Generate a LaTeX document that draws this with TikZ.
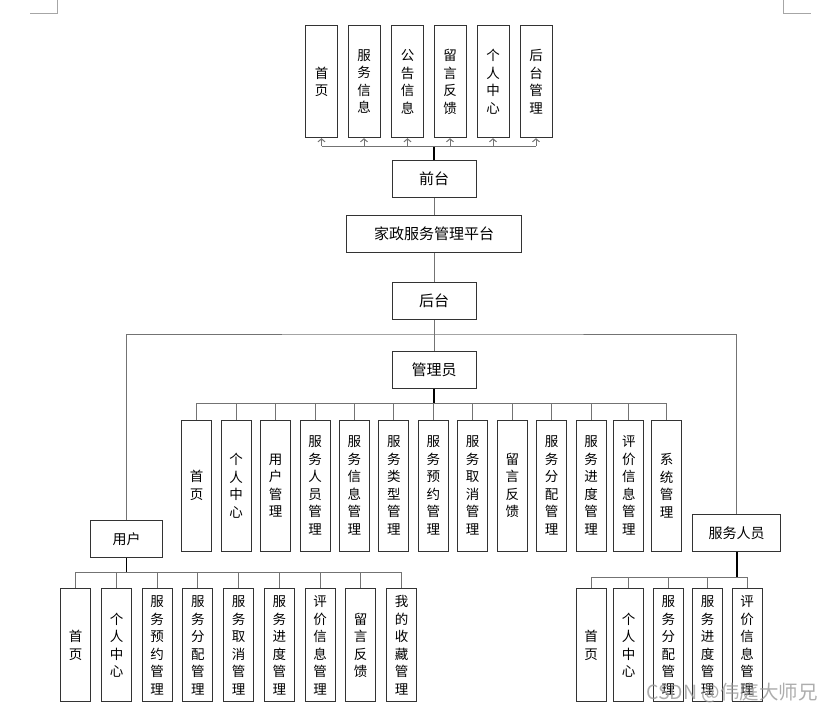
\documentclass[tikz,border=0pt]{standalone}
\usepackage{fontspec}
\setmainfont{Noto Sans CJK SC}
\usetikzlibrary{arrows.meta}
\tikzset{
  mainBox/.style={draw=black!80, line width=1pt, minimum height=37pt, inner sep=0pt, font=\fontsize{15}{18}\selectfont},
  leafBox/.style={draw=black!80, line width=1pt, minimum width=30pt, inner sep=0pt, align=center, font=\fontsize{13.5}{17.5}\selectfont},
  link/.style={draw=black!55, line width=1pt},
  trunk/.style={draw=black, line width=1.6pt},
  upArrow/.style={link, -{Straight Barb[length=3pt,width=7pt]}},
  cornerMark/.style={draw=black!35, line width=1pt},
}
\newcommand{\drawLeaf}[3]{\node [leafBox] (#1) at #2 {#3}}

\begin{document}
\begin{tikzpicture}[x=1pt, y=-1pt]
    \useasboundingbox (0,0) rectangle (833,713);
    \draw [cornerMark] (30,13) -- (57,13) -- (57,0);
    \draw [cornerMark] (783,0) -- (783,13) -- (811,13);

    % main column
    \node [mainBox, minimum width=84pt] (front) at (434,179) {前台};
    \node [mainBox, minimum width=175pt] (platform) at (434,234) {家政服务管理平台};
    \node [mainBox, minimum width=84pt] (back) at (434,301) {后台};
    \node [mainBox, minimum width=84pt] (admin) at (434,370) {管理员};
    \node [mainBox, minimum width=72pt, font=\fontsize{14}{17}\selectfont] (user) at (126.5,539) {用户};
    \node [mainBox, minimum width=88pt, font=\fontsize{14}{17}\selectfont] (staff) at (736.7,533) {服务人员};

    \draw [link] (front) -- (platform);
    \draw [link] (platform) -- (back);
    \draw [link] (back) -- (admin);
    \coordinate (hub) at (434,334);
    \draw [link] (user.north) |- (hub) -| (staff.north);

    % for front
    \begin{scope}[leafBox/.append style={minimum width=32pt, minimum height=112pt}]
    \drawLeaf{f1}{(321.5,81.7)}{首\\页};
    \drawLeaf{f2}{(364,81.7)}{服\\务\\信\\息};
    \drawLeaf{f3}{(407.5,81.7)}{公\\告\\信\\息};
    \drawLeaf{f4}{(450,81.7)}{留\\言\\反\\馈};
    \drawLeaf{f5}{(493,81.7)}{个\\人\\中\\心};
    \drawLeaf{f6}{(536,81.7)}{后\\台\\管\\理};
    \end{scope}
    \coordinate (frontBus) at (434,146);
    \draw [trunk] (front.north) -- (frontBus);
    \draw [link] (frontBus -| f1) -- (frontBus -| f6);
    \draw [upArrow] (frontBus -| f1) -- (f1.south);
    \draw [upArrow] (frontBus -| f2) -- (f2.south);
    \draw [upArrow] (frontBus -| f3) -- (f3.south);
    \draw [upArrow] (frontBus -| f4) -- (f4.south);
    \draw [upArrow] (frontBus -| f5) -- (f5.south);
    \draw [upArrow] (frontBus -| f6) -- (f6.south);

    % for admin
    \begin{scope}[leafBox/.append style={minimum height=131pt}]
    \drawLeaf{a1}{(196.7,485.5)}{首\\页};
    \drawLeaf{a2}{(236,485.5)}{个\\人\\中\\心};
    \drawLeaf{a3}{(275.5,485.5)}{用\\户\\管\\理};
    \drawLeaf{a4}{(315,485.5)}{服\\务\\人\\员\\管\\理};
    \drawLeaf{a5}{(354.3,485.5)}{服\\务\\信\\息\\管\\理};
    \drawLeaf{a6}{(393.8,485.5)}{服\\务\\类\\型\\管\\理};
    \drawLeaf{a7}{(433.3,485.5)}{服\\务\\预\\约\\管\\理};
    \drawLeaf{a8}{(472.7,485.5)}{服\\务\\取\\消\\管\\理};
    \drawLeaf{a9}{(512.3,485.5)}{留\\言\\反\\馈};
    \drawLeaf{a10}{(551.7,485.5)}{服\\务\\分\\配\\管\\理};
    \drawLeaf{a11}{(591,485.5)}{服\\务\\进\\度\\管\\理};
    \drawLeaf{a12}{(628.8,485.5)}{评\\价\\信\\息\\管\\理};
    \drawLeaf{a13}{(666.7,485.5)}{系\\统\\管\\理};
    \end{scope}
    \coordinate (adminBus) at (434,403);
    \draw [link] (adminBus -| a1) -- (adminBus -| a13);
    \draw [trunk] (admin.south) -- (adminBus);
    \draw [link] (adminBus -| a1) -- (a1.north);
    \draw [link] (adminBus -| a2) -- (a2.north);
    \draw [link] (adminBus -| a3) -- (a3.north);
    \draw [link] (adminBus -| a4) -- (a4.north);
    \draw [link] (adminBus -| a5) -- (a5.north);
    \draw [link] (adminBus -| a6) -- (a6.north);
    \draw [link] (adminBus -| a7) -- (a7.north);
    \draw [link] (adminBus -| a8) -- (a8.north);
    \draw [link] (adminBus -| a9) -- (a9.north);
    \draw [link] (adminBus -| a10) -- (a10.north);
    \draw [link] (adminBus -| a11) -- (a11.north);
    \draw [link] (adminBus -| a12) -- (a12.north);
    \draw [link] (adminBus -| a13) -- (a13.north);

    % for user
    \begin{scope}[leafBox/.append style={minimum height=112.7pt}]
    \drawLeaf{u1}{(75.7,645.3)}{首\\页};
    \drawLeaf{u2}{(116.5,645.3)}{个\\人\\中\\心};
    \drawLeaf{u3}{(157.2,645.3)}{服\\务\\预\\约\\管\\理};
    \drawLeaf{u4}{(197.8,645.3)}{服\\务\\分\\配\\管\\理};
    \drawLeaf{u5}{(238.5,645.3)}{服\\务\\取\\消\\管\\理};
    \drawLeaf{u6}{(279.3,645.3)}{服\\务\\进\\度\\管\\理};
    \drawLeaf{u7}{(320.2,645.3)}{评\\价\\信\\息\\管\\理};
    \drawLeaf{u8}{(360.7,645.3)}{留\\言\\反\\馈};
    \drawLeaf{u9}{(401.5,645.3)}{我\\的\\收\\藏\\管\\理};
    \end{scope}
    \coordinate (userBus) at (126.5,572);
    \draw [link] (userBus -| u1) -- (userBus -| u9);
    \draw [trunk] (user.south) -- (userBus);
    \draw [link] (userBus -| u1) -- (u1.north);
    \draw [link] (userBus -| u2) -- (u2.north);
    \draw [link] (userBus -| u3) -- (u3.north);
    \draw [link] (userBus -| u4) -- (u4.north);
    \draw [link] (userBus -| u5) -- (u5.north);
    \draw [link] (userBus -| u6) -- (u6.north);
    \draw [link] (userBus -| u7) -- (u7.north);
    \draw [link] (userBus -| u8) -- (u8.north);
    \draw [link] (userBus -| u9) -- (u9.north);

    % for staff
    \begin{scope}[leafBox/.append style={minimum height=112.7pt}]
    \drawLeaf{s1}{(591,645.3)}{首\\页};
    \drawLeaf{s2}{(628.7,645.3)}{个\\人\\中\\心};
    \drawLeaf{s3}{(668.3,645.3)}{服\\务\\分\\配\\管\\理};
    \drawLeaf{s4}{(707.7,645.3)}{服\\务\\进\\度\\管\\理};
    \drawLeaf{s5}{(747,645.3)}{评\\价\\信\\息\\管\\理};
    \end{scope}
    \coordinate (staffBus) at (736.7,577);
    \draw [link] (staffBus -| s1) -- (staffBus -| s5);
    \draw [trunk] (staff.south) -- (staffBus);
    \draw [link] (staffBus -| s1) -- (s1.north);
    \draw [link] (staffBus -| s2) -- (s2.north);
    \draw [link] (staffBus -| s3) -- (s3.north);
    \draw [link] (staffBus -| s4) -- (s4.north);
    \draw [link] (staffBus -| s5) -- (s5.north);

    % watermark
    \node [text=black!40, opacity=0.8, font=\fontsize{19.5}{21}\selectfont, inner sep=0pt] (mark) at (732,693) {CSDN @伟庭大师兄};
\end{tikzpicture}
\end{document}
